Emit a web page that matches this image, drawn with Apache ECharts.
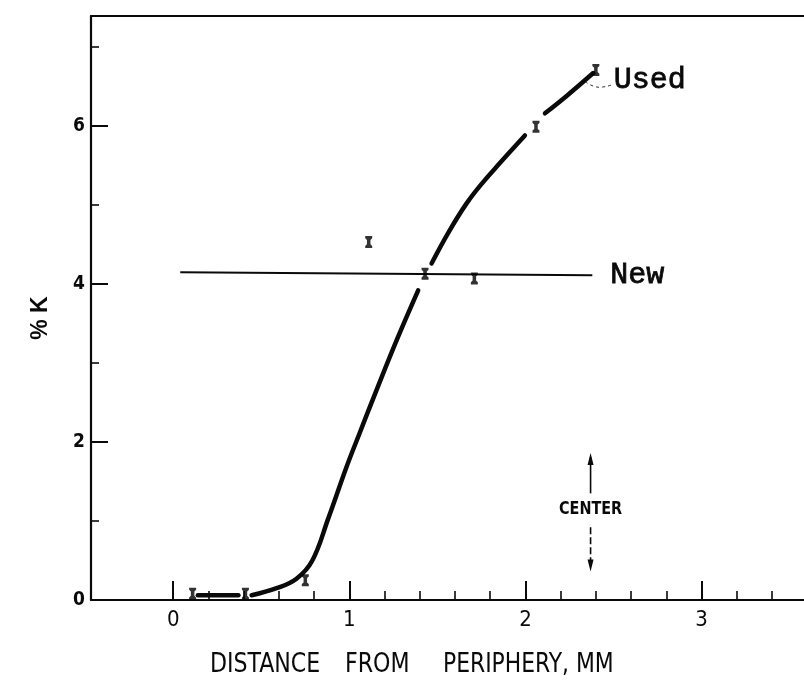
<!DOCTYPE html>
<html>
<head>
<meta charset="utf-8">
<script src="https://cdn.jsdelivr.net/npm/echarts@6/dist/echarts.min.js"></script>
<style>
  html, body { margin: 0; padding: 0; background: #fff; }
  #chart { width: 804px; height: 685px; }
</style>
</head>
<body>
<div id="chart"></div>
<script>
// Potassium (% K) across the section, measured from the periphery (mm)

// axis ticks and labels
const xMajorTicks = [0, 1, 2, 3];
const xMinorTicks = [0.2, 0.4, 0.6, 0.8, 1.2, 1.4, 1.6, 1.8, 2.2, 2.4, 2.6, 2.8, 3.2, 3.4];
const yMajorTicks = [2, 4, 6];
const yMinorTicks = [1, 3, 5, 7];
const yLabelValues = [0, 2, 4, 6];

// "Used" profile, drawn in pieces broken around the plotted points
const usedSegmentA = [[0.14, 0.06], [0.37, 0.06]];
const usedSegmentB = [[0.445, 0.06], [0.587, 0.15], [0.70, 0.27], [0.79, 0.50], [0.88, 1.03],
                      [0.985, 1.69], [1.051, 2.07], [1.155, 2.66], [1.269, 3.29], [1.391, 3.92]];
const usedSegmentC = [[1.467, 4.26], [1.565, 4.66], [1.666, 5.02], [1.76, 5.29], [1.855, 5.53], [1.997, 5.88]];
const usedSegmentD = [[2.111, 6.16], [2.234, 6.38], [2.385, 6.67]];
const usedSegments = [usedSegmentA, usedSegmentB, usedSegmentC, usedSegmentD];

// leader from the "Used" curve to its label
const usedLeader = [[2.34, 6.56], [2.42, 6.49], [2.49, 6.52]];

// "New" profile (flat)
const newLine = [[0.04, 4.15], [2.38, 4.11]];

// measured points
const measuredPoints = [[0.11, 0.08], [0.41, 0.08], [0.75, 0.25], [1.11, 4.53], [1.43, 4.13],
                        [1.71, 4.07], [2.06, 5.99], [2.40, 6.71]];

// centre-of-section marker: x position and vertical extents (in % K units)
const centerX = [2.37];
const centerUpper = [1.86, 1.35];
const centerTextY = [1.14];
const centerLower = [0.92, 0.36];

const X_MIN = -0.467, X_MAX = 3.582;
const Y_MIN = 0, Y_MAX = 7.392;

const INK = '#0a0a0a';
const COND = '"DejaVu Sans Condensed", "DejaVu Sans", sans-serif';
const MONO = '"Liberation Mono", "DejaVu Sans Mono", monospace';

const markerPath = 'path://M0,0H8V2.5L6,4.5V9.5L8,11.5V14H0V11.5L2,9.5V4.5L0,2.5Z';

const chart = echarts.init(document.getElementById('chart'), null, { renderer: 'canvas' });

const series = [];

usedSegments.forEach(function (seg, i) {
  series.push({
    name: 'Used ' + i,
    type: 'line',
    data: seg,
    smooth: 0.4,
    symbol: 'none',
    lineStyle: { color: INK, width: 4.5, cap: 'round' },
    z: 3
  });
});

series.push({
  name: 'Used leader',
  type: 'line',
  data: usedLeader,
  smooth: 0.5,
  symbol: 'none',
  lineStyle: { color: '#333', width: 1, type: [3, 3] },
  endLabel: {
    show: true, formatter: 'Used', distance: 2, offset: [0, -5],
    fontFamily: MONO, fontSize: 30, color: INK, textBorderColor: INK, textBorderWidth: 0.8
  },
  z: 2
});

series.push({
  name: 'New',
  type: 'line',
  data: newLine,
  symbol: 'none',
  lineStyle: { color: INK, width: 2 },
  endLabel: {
    show: true, formatter: 'New', distance: 18,
    fontFamily: MONO, fontSize: 30, color: INK, textBorderColor: INK, textBorderWidth: 0.8
  },
  z: 2
});

series.push({
  name: 'Measured',
  type: 'scatter',
  data: measuredPoints,
  symbol: markerPath,
  symbolSize: [7, 12],
  itemStyle: { color: '#000' },
  z: 4
});

series.push({
  name: 'Center',
  type: 'custom',
  data: centerX.map(function (x) { return [x]; }),
  renderItem: function (params, api) {
    const x = api.value(0);
    const upTip = api.coord([x, centerUpper[0]]);
    const upEnd = api.coord([x, centerUpper[1]]);
    const txt = api.coord([x, centerTextY[0]]);
    const lowStart = api.coord([x, centerLower[0]]);
    const lowTip = api.coord([x, centerLower[1]]);
    const headH = 12, headW = 3;
    return {
      type: 'group',
      children: [
        { type: 'line', shape: { x1: upTip[0], y1: upTip[1] + 4, x2: upEnd[0], y2: upEnd[1] },
          style: { stroke: INK, lineWidth: 1.6 } },
        { type: 'polygon', shape: { points: [[upTip[0], upTip[1]], [upTip[0] - headW, upTip[1] + headH], [upTip[0] + headW, upTip[1] + headH]] },
          style: { fill: INK } },
        { type: 'text', x: txt[0], y: txt[1], scaleX: 0.94,
          style: { text: 'CENTER', fontFamily: COND, fontSize: 17, fontWeight: 'bold', fill: INK, align: 'center', verticalAlign: 'middle' } },
        { type: 'line', shape: { x1: lowStart[0], y1: lowStart[1], x2: lowTip[0], y2: lowTip[1] - 6 },
          style: { stroke: INK, lineWidth: 1.6, lineDash: [7, 3] } },
        { type: 'polygon', shape: { points: [[lowTip[0], lowTip[1]], [lowTip[0] - headW, lowTip[1] - headH], [lowTip[0] + headW, lowTip[1] - headH]] },
          style: { fill: INK } }
      ]
    };
  },
  z: 3
});

const option = {
  animation: false,
  backgroundColor: '#ffffff',
  grid: { left: 91, right: 0, top: 16, bottom: 85, containLabel: false },
  xAxis: [
    {
      type: 'value', min: X_MIN, max: X_MAX, position: 'bottom',
      axisLine: { show: true, onZero: false, lineStyle: { color: INK, width: 2 } },
      axisTick: { show: true, inside: true, length: 19, customValues: xMajorTicks, lineStyle: { color: INK, width: 2 } },
      axisLabel: { show: true, customValues: xMajorTicks, margin: 9, fontFamily: COND, fontSize: 22, color: INK,
                   formatter: function (v) { return String(v); } },
      splitLine: { show: false }
    },
    {
      type: 'value', min: X_MIN, max: X_MAX, position: 'bottom',
      axisLine: { show: false, onZero: false },
      axisTick: { show: true, inside: true, length: 9, customValues: xMinorTicks, lineStyle: { color: INK, width: 1.6 } },
      axisLabel: { show: false },
      splitLine: { show: false }
    },
    {
      type: 'value', min: X_MIN, max: X_MAX, position: 'top',
      axisLine: { show: true, onZero: false, lineStyle: { color: INK, width: 2 } },
      axisTick: { show: false },
      axisLabel: { show: false },
      splitLine: { show: false }
    }
  ],
  yAxis: [
    {
      type: 'value', min: Y_MIN, max: Y_MAX, position: 'left',
      axisLine: { show: true, onZero: false, lineStyle: { color: INK, width: 2.2 } },
      axisTick: { show: true, inside: true, length: 17, customValues: yMajorTicks, lineStyle: { color: INK, width: 2 } },
      axisLabel: { show: true, customValues: yLabelValues, margin: 6, fontFamily: COND, fontSize: 19, fontWeight: 'bold', color: INK,
                   formatter: function (v) { return String(v); } },
      splitLine: { show: false }
    },
    {
      type: 'value', min: Y_MIN, max: Y_MAX, position: 'left',
      axisLine: { show: false, onZero: false },
      axisTick: { show: true, inside: true, length: 8, customValues: yMinorTicks, lineStyle: { color: INK, width: 1.6 } },
      axisLabel: { show: false },
      splitLine: { show: false }
    }
  ],
  graphic: [
    { type: 'text', x: 210, y: 651, scaleX: 0.91,
      style: { text: 'DISTANCE', fontFamily: COND, fontSize: 27, fill: INK, align: 'left', verticalAlign: 'top' } },
    { type: 'text', x: 345, y: 651, scaleX: 0.91,
      style: { text: 'FROM', fontFamily: COND, fontSize: 27, fill: INK, align: 'left', verticalAlign: 'top' } },
    { type: 'text', x: 443, y: 651, scaleX: 0.9,
      style: { text: 'PERIPHERY, MM', fontFamily: COND, fontSize: 27, fill: INK, align: 'left', verticalAlign: 'top' } },
    { type: 'text', x: 41, y: 318, rotation: Math.PI / 2,
      style: { text: '% K', fontFamily: '"Liberation Sans", Arial, sans-serif', fontSize: 23, fontWeight: 'bold', fill: INK,
               align: 'center', verticalAlign: 'middle' } }
  ],
  series: series
};

chart.setOption(option);
</script>
</body>
</html>
